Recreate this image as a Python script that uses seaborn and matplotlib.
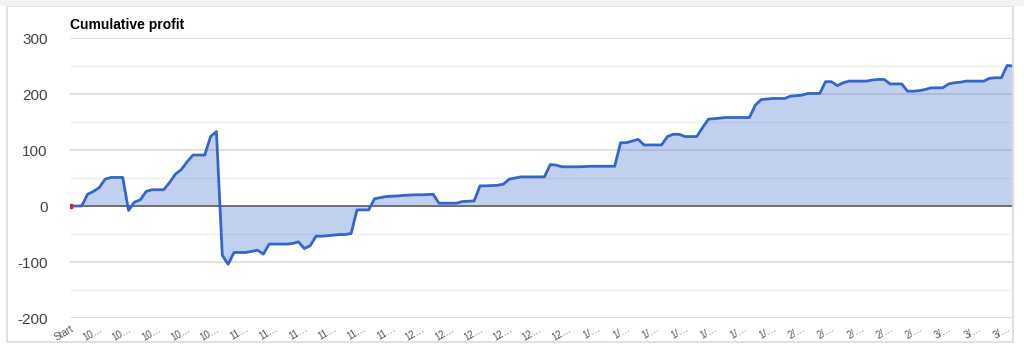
import numpy as np
import pandas as pd
import matplotlib
matplotlib.use("Agg")
import matplotlib.pyplot as plt
import seaborn as sns
from matplotlib.patches import Rectangle

# ---- data ----
profit = [
    0, 0, 0, 21, 26, 33, 48, 51, 51, 51,
    -8, 7, 11, 26, 29, 29, 29, 42, 57, 65,
    79, 91, 91, 91, 124, 133, -88, -104, -83, -83,
    -83, -81, -79, -86, -68, -68, -68, -68, -67, -64,
    -76, -71, -54, -54, -53, -52, -51, -51, -49, -7,
    -7, -7, 13, 15, 17, 17.5, 18, 19, 19.5, 20,
    20, 20.5, 21, 5, 5, 5, 5, 8, 8.5, 9,
    36, 36, 36.5, 37, 39, 48, 50, 52, 52, 52,
    52, 52, 74, 73, 70, 70, 70, 70, 70.5, 71,
    71, 71, 71, 71, 113, 113, 116, 119, 109, 109,
    109, 109, 124, 128, 128, 124, 124, 124, 140, 155,
    156, 157, 158, 158, 158, 158, 158, 180, 190, 191,
    192, 192, 192, 196, 197, 198, 201, 201, 201, 222,
    222, 215, 220, 223, 223, 223, 223, 225, 226, 226,
    218, 218, 218, 205, 205, 206, 208, 211, 211, 211,
    218, 220, 221, 223, 223, 223, 223, 228, 229, 229,
    251, 250,
]
tick_labels = (["Start"] + ["10…"] * 5 + ["11…"] * 6 + ["12…"] * 6
               + ["1/…"] * 7 + ["2/…"] * 5 + ["3/…"] * 3)
label_step = 5
y_ticks = [-200, -100, 0, 100, 200, 300]
title = "Cumulative profit"

df = pd.DataFrame({"idx": np.arange(len(profit)), "profit": profit})

sns.set_theme(style="white")
plt.rcParams["font.family"] = ["Liberation Sans", "DejaVu Sans"]

W, H = 1024, 356
fig = plt.figure(figsize=(W / 100, H / 100), dpi=100)
fig.patch.set_facecolor("white")

# outer frame
fig.add_artist(Rectangle((7 / W, 1 - 342 / H), (1013 - 7) / W, (342 - 6) / H,
                         transform=fig.transFigure, fill=False,
                         edgecolor="#dcdcdc", linewidth=1.2))
fig.add_artist(Rectangle((0, 1 - 6 / H), 1, 6 / H, transform=fig.transFigure,
                         facecolor="#f2f2f2", edgecolor="none"))

left, right = 70 / W, 1013 / W
top_px, bot_px = 38, 318
ax = fig.add_axes([left, 1 - bot_px / H, right - left, (bot_px - top_px) / H])
ax.set_facecolor("none")

# grid
for v in np.arange(-200, 301, 50):
    if v == 0:
        continue
    major = (v % 100 == 0)
    ax.axhline(v, color="#d9d9d9" if major else "#efefef",
               lw=1.1 if major else 1.0, zorder=0)

blue = "#3366cc"
ax.fill_between(df["idx"], df["profit"], 0, color=blue, alpha=0.3,
                linewidth=0, zorder=1)
ax.axhline(0, color="#666666", lw=1.3, zorder=2)
sns.lineplot(data=df, x="idx", y="profit", color=blue, lw=2, ax=ax, zorder=3)
ax.scatter(df["idx"].iloc[:1], df["profit"].iloc[:1], marker="s", s=6,
           color="#dd2211", zorder=4)

ax.set_xlim(0, len(profit) - 1)
ax.set_ylim(-200, 300)
ax.set_yticks(y_ticks)
ax.set_yticklabels([str(v) for v in y_ticks], fontsize=11, color="#444444")
ax.tick_params(axis="y", length=0, pad=16)

pos = np.arange(0, label_step * len(tick_labels), label_step)
ax.set_xticks(pos)
ax.set_xticklabels(tick_labels, fontsize=7, color="#555555", rotation=30,
                   ha="right", rotation_mode="anchor")
ax.tick_params(axis="x", length=0, pad=4)

for s in ax.spines.values():
    s.set_visible(False)
ax.set_xlabel("")
ax.set_ylabel("")

fig.text(70 / W, 1 - 25 / H, title, fontsize=10, fontweight="bold",
         color="#000000", ha="left", va="center")

fig.savefig("out.png", dpi=100)
